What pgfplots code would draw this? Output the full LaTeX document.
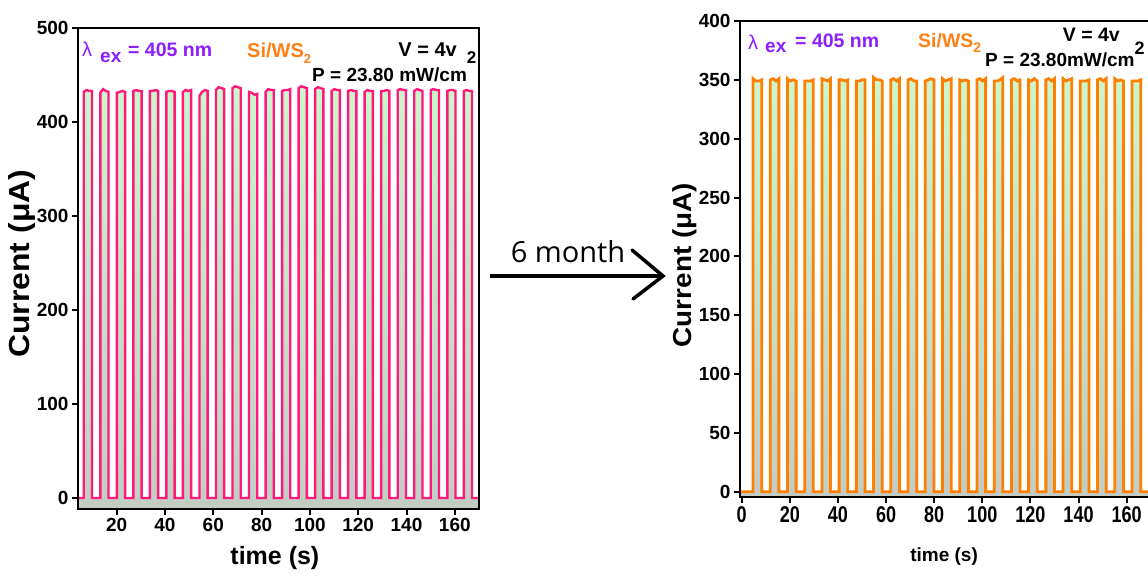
\documentclass[border=0pt]{standalone}
\usepackage{pgfplots}
\pgfplotsset{compat=1.18}
\usepackage{pgfplotstable}
\usepackage{fontspec}
\setmainfont{Liberation Sans}
\newfontfamily\osans{Open Sans}
\definecolor{pinkL}{RGB}{255,25,125}
\definecolor{orangeR}{RGB}{255,128,0}
\definecolor{lampurple}{RGB}{140,30,255}
\definecolor{txtorange}{RGB}{255,128,20}
\definecolor{fgreen}{RGB}{204,246,204}
\definecolor{fgray}{RGB}{196,204,196}

\pgfplotstableread{
t I
4 0
6.40 0
6.40 432
7.50 434
8.70 433
9.80 433
9.80 0
13.24 0
13.24 431
14.34 435
15.54 433
16.64 432
16.64 0
20.08 0
20.08 431
21.18 432
22.38 433
23.48 432
23.48 0
26.92 0
26.92 433
28.02 434
29.22 433
30.32 433
30.32 0
33.76 0
33.76 433
34.86 433
36.06 434
37.16 433
37.16 0
40.60 0
40.60 432
41.70 433
42.90 433
44.00 432
44.00 0
47.44 0
47.44 432
48.54 434
49.74 433
50.84 434
50.84 0
54.28 0
54.28 428
55.38 432
56.58 434
57.68 433
57.68 0
61.12 0
61.12 434
62.22 437
63.42 436
64.52 435
64.52 0
67.96 0
67.96 436
69.06 438
70.26 437
71.36 436
71.36 0
74.80 0
74.80 432
75.90 431
77.10 429
78.20 430
78.20 0
81.64 0
81.64 432
82.74 435
83.94 434
85.04 434
85.04 0
88.48 0
88.48 433
89.58 434
90.78 434
91.88 435
91.88 0
95.32 0
95.32 436
96.42 438
97.62 437
98.72 436
98.72 0
102.16 0
102.16 435
103.26 437
104.46 436
105.56 435
105.56 0
109.00 0
109.00 433
110.10 435
111.30 434
112.40 434
112.40 0
115.84 0
115.84 433
116.94 434
118.14 433
119.24 433
119.24 0
122.68 0
122.68 432
123.78 434
124.98 433
126.08 433
126.08 0
129.52 0
129.52 433
130.62 433
131.82 434
132.92 433
132.92 0
136.36 0
136.36 434
137.46 435
138.66 434
139.76 434
139.76 0
143.20 0
143.20 433
144.30 435
145.50 434
146.60 433
146.60 0
150.04 0
150.04 434
151.14 435
152.34 434
153.44 434
153.44 0
156.88 0
156.88 433
157.98 434
159.18 434
160.28 433
160.28 0
163.72 0
163.72 433
164.82 434
166.02 433
167.12 433
167.12 0
170 0
}\dataL

\pgfplotstableread{
t I
-0.7 0
4.70 0
4.70 351
5.90 349
7.10 349
8.30 350
8.30 0
11.86 0
11.86 350
13.06 351
14.26 349
15.46 351
15.46 0
19.02 0
19.02 351
20.22 349
21.42 350
22.62 349
22.62 0
26.18 0
26.18 349
27.38 349
28.58 349
29.78 350
29.78 0
33.34 0
33.34 351
34.54 350
35.74 349
36.94 351
36.94 0
40.50 0
40.50 350
41.70 350
42.90 349
44.10 350
44.10 0
47.66 0
47.66 349
48.86 349
50.06 350
51.26 350
51.26 0
54.82 0
54.82 352
56.02 350
57.22 350
58.42 349
58.42 0
61.98 0
61.98 350
63.18 351
64.38 349
65.58 351
65.58 0
69.14 0
69.14 350
70.34 351
71.54 349
72.74 349
72.74 0
76.30 0
76.30 349
77.50 350
78.70 351
79.90 350
79.90 0
83.46 0
83.46 351
84.66 349
85.86 350
87.06 351
87.06 0
90.62 0
90.62 350
91.82 349
93.02 350
94.22 349
94.22 0
97.78 0
97.78 350
98.98 351
100.18 349
101.38 351
101.38 0
104.94 0
104.94 349
106.14 349
107.34 350
108.54 352
108.54 0
112.10 0
112.10 350
113.30 351
114.50 349
115.70 350
115.70 0
119.26 0
119.26 350
120.46 349
121.66 351
122.86 349
122.86 0
126.42 0
126.42 350
127.62 351
128.82 349
130.02 351
130.02 0
133.58 0
133.58 351
134.78 349
135.98 350
137.18 351
137.18 0
140.74 0
140.74 349
141.94 349
143.14 349
144.34 350
144.34 0
147.90 0
147.90 350
149.10 351
150.30 349
151.50 351
151.50 0
155.06 0
155.06 351
156.26 349
157.46 350
158.66 349
158.66 0
162.22 0
162.22 349
163.42 349
164.62 349
165.82 350
165.82 0
170 0
}\dataR

\pgfplotsset{
  myax/.style={
    scale only axis, axis on top, anchor=south west,
    axis line style={line width=2.6pt, black},
    tick style={line width=2pt, black},
    major tick length=6pt, tick align=outside,
    xtick pos=bottom, ytick pos=left,
    /pgf/number format/assume math mode=true,
    ticklabel style={font=\bfseries\fontsize{19}{19}\selectfont},
  }
}

\begin{document}
\begin{tikzpicture}
\path[use as bounding box] (0pt,0pt) rectangle (1148pt,576pt);
\clip (0pt,0pt) rectangle (1148pt,576pt);

% left panel
\begin{axis}[myax, at={(78pt,67pt)}, width=401pt, height=481pt,
  xmin=4, xmax=170, ymin=-11.7, ymax=500,
  xtick={20,40,...,160}, ytick={0,100,...,500},
  xlabel={time (s)}, ylabel={\scalebox{1.1}[1]{Current (μA)}},
  xlabel style={at={(axis description cs:0.491,-0.102)}, anchor=center, font=\bfseries\fontsize{25}{25}\selectfont},
  ylabel style={at={(axis description cs:-0.14,0.51)}, anchor=center, font=\bfseries\fontsize{29}{29}\selectfont},
]
\addplot[draw=none, top color=fgreen, bottom color=fgray, forget plot] table[x=t,y=I] {\dataL} -- (axis cs:170,-11.7) -- (axis cs:4,-11.7) -- cycle;
\addplot[line width=2.4pt, color=pinkL, line join=miter] table[x=t,y=I] {\dataL};
\end{axis}

% right panel
\begin{axis}[myax, at={(740pt,79pt)}, width=410.7pt, height=476pt,
  xmin=-0.7, xmax=170, ymin=-4.5, ymax=400,
  xtick={0,20,...,160}, ytick={0,50,...,400},
  xticklabel={\scalebox{0.95}[1.2]{\pgfmathprintnumber{\tick}}},
  xlabel={time (s)}, ylabel={\scalebox{1.07}[1]{Current (μA)}},
  xlabel style={at={(axis description cs:0.497,-0.126)}, anchor=center, font=\bfseries\fontsize{19}{19}\selectfont},
  ylabel style={at={(axis description cs:-0.134,0.487)}, anchor=center, font=\bfseries\fontsize{26}{26}\selectfont},
]
\addplot[draw=none, top color=fgreen, bottom color=fgray, forget plot] table[x=t,y=I] {\dataR} -- (axis cs:170,-4.5) -- (axis cs:-0.7,-4.5) -- cycle;
\addplot[line width=2.8pt, color=orangeR, line join=miter] table[x=t,y=I] {\dataR};
\end{axis}

% left annotations
\node[anchor=base west, inner sep=0, text=lampurple, font=\fontsize{20}{20}\selectfont] at (82pt,519pt) {λ};
\node[anchor=base west, inner sep=0, text=lampurple, font=\bfseries\fontsize{19}{19}\selectfont] at (100pt,513pt) {ex};
\node[anchor=base west, inner sep=0, text=lampurple, font=\bfseries\fontsize{19.5}{19.5}\selectfont] at (128pt,519pt) {= 405 nm};
\node[anchor=base west, inner sep=0, text=txtorange, font=\bfseries\fontsize{20}{20}\selectfont] at (247pt,518pt) {Si/WS\raisebox{-6pt}{\fontsize{13}{13}\selectfont 2}};
\node[anchor=base east, inner sep=0, font=\bfseries\fontsize{20}{20}\selectfont] at (457pt,519pt) {V = 4v};
\node[anchor=base west, inner sep=0, font=\bfseries\fontsize{19}{19}\selectfont] at (312pt,494pt) {P = 23.80 mW/cm\raisebox{18pt}{\fontsize{17}{17}\selectfont 2}};

% right annotations
\node[anchor=base west, inner sep=0, text=lampurple, font=\fontsize{20}{20}\selectfont] at (748pt,526pt) {λ};
\node[anchor=base west, inner sep=0, text=lampurple, font=\bfseries\fontsize{19}{19}\selectfont] at (765pt,523pt) {ex};
\node[anchor=base west, inner sep=0, text=lampurple, font=\bfseries\fontsize{19.5}{19.5}\selectfont] at (795pt,528pt) {= 405 nm};
\node[anchor=base west, inner sep=0, text=txtorange, font=\bfseries\fontsize{19.5}{19.5}\selectfont] at (918pt,528pt) {Si/WS\raisebox{-5pt}{\fontsize{14}{14}\selectfont 2}};
\node[anchor=base east, inner sep=0, font=\bfseries\fontsize{19.5}{19.5}\selectfont] at (1120pt,534pt) {V = 4v};
\node[anchor=base west, inner sep=0, font=\bfseries\fontsize{19}{19}\selectfont] at (985pt,509pt) {P = 23.80mW/cm\raisebox{12pt}{\fontsize{18}{18}\selectfont 2}};

% arrow
\draw[line width=3.5pt] (490pt,300pt) -- (661pt,300pt);
\draw[line width=3.5pt, line cap=round, line join=miter] (632pt,326pt) -- (663pt,300pt) -- (633pt,277pt);
\node[inner sep=0, font=\osans\fontsize{29}{29}\selectfont] at (568pt,324pt) {6 month};
\end{tikzpicture}
\end{document}
